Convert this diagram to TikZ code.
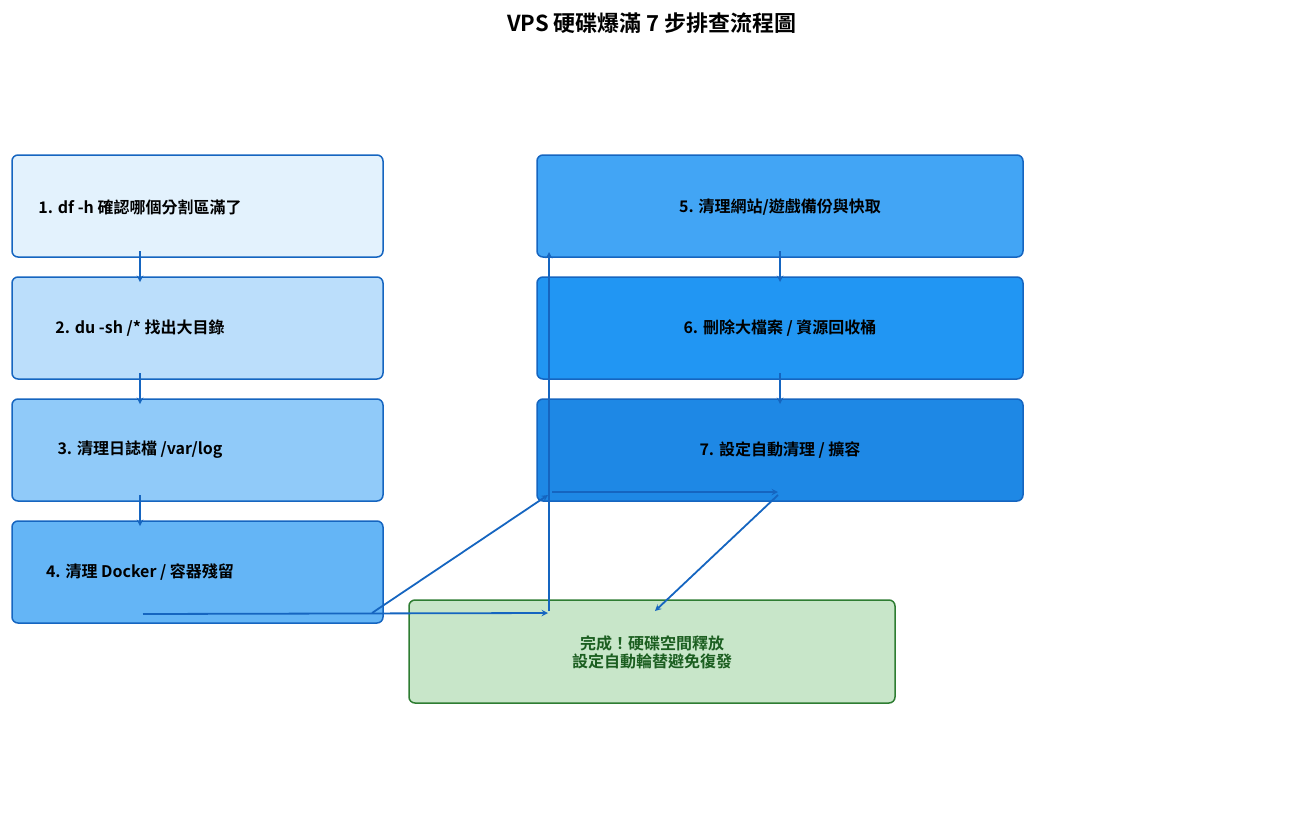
\documentclass[tikz,border=0pt]{standalone}
\usepackage{fontspec}
\setmainfont{Noto Sans CJK TC}[BoldFont={* Bold}]
\usetikzlibrary{positioning}
\definecolor{edgeblue}{HTML}{1565C0}
\definecolor{doneedge}{HTML}{2E7D32}
\definecolor{donetext}{HTML}{1B5E20}
\tikzset{
  stepbox/.style={draw=edgeblue,line width=1.5pt,rounded corners=6pt,minimum width=371pt,minimum height=102pt},
  boxtext/.style={font=\bfseries\fontsize{16}{19}\selectfont,align=center},
  flow/.style={draw=edgeblue,line width=1.8pt,-stealth},
}
\begin{document}
\begin{tikzpicture}[x=1pt,y=-1pt]
\useasboundingbox (0,0) rectangle (1304,828);

\node[font=\bfseries\fontsize{22}{26}\selectfont] (title) at (652,23) {VPS 硬碟爆滿 7 步排查流程圖};

% LEFT COLUMN

\node[stepbox,fill={rgb,255:red,227;green,242;blue,253}] (s1) at (197.5,206) {};
\node[stepbox,fill={rgb,255:red,187;green,222;blue,251}] (s2) at (197.5,328) {};
\node[stepbox,fill={rgb,255:red,144;green,202;blue,249}] (s3) at (197.5,450) {};
\node[stepbox,fill={rgb,255:red,100;green,181;blue,246}] (s4) at (197.5,572) {};
\node[boxtext] (t1) at (140,207) {1. df -h 確認哪個分割區滿了};
\node[boxtext] (t2) at (140,328) {2. du -sh /* 找出大目錄};
\node[boxtext] (t3) at (140,450) {3. 清理日誌檔 /var/log};
\node[boxtext] (t4) at (140,572) {4. 清理 Docker / 容器殘留};

% RIGHT COLUMN

\node[stepbox,minimum width=486pt,fill={rgb,255:red,66;green,165;blue,245}] (s5) at (780,206) {};
\node[stepbox,minimum width=486pt,fill={rgb,255:red,33;green,150;blue,243}] (s6) at (780,328) {};
\node[stepbox,minimum width=486pt,fill={rgb,255:red,30;green,136;blue,229}] (s7) at (780,450) {};
\node[boxtext] (t5) at (780,207) {5. 清理網站/遊戲備份與快取};
\node[boxtext] (t6) at (780,328) {6. 刪除大檔案 / 資源回收桶};
\node[boxtext] (t7) at (780,450) {7. 設定自動清理 / 擴容};

% DONE

\node[stepbox,draw=doneedge,minimum width=486pt,minimum height=103pt,fill={rgb,255:red,200;green,230;blue,201}] (done) at (652,651.5) {};
\node[boxtext,text=donetext,font=\bfseries\fontsize{16}{18}\selectfont] (tdone) at (652,652) {完成！硬碟空間釋放\\設定自動輪替避免復發};

% CONNECTORS

\coordinate (a1) at (140,251); \coordinate (b2) at (140,282);
\coordinate (a2) at (140,373); \coordinate (b3) at (140,404);
\coordinate (a3) at (140,495); \coordinate (b4) at (140,526);
\coordinate (a5) at (780,251); \coordinate (b6) at (780,282);
\coordinate (a6) at (780,373); \coordinate (b7) at (780,404);
\coordinate (p4) at (143,614); \coordinate (q4) at (548,613);
\coordinate (p4d) at (372,613); \coordinate (q7) at (548,495);
\coordinate (pd) at (549,611); \coordinate (q5) at (549,252);
\coordinate (p7) at (552,492); \coordinate (q7r) at (778,492);
\coordinate (p7d) at (778,495); \coordinate (qd) at (655,611);

\draw[flow] (a1) -- (b2);
\draw[flow] (a2) -- (b3);
\draw[flow] (a3) -- (b4);
\draw[flow] (a5) -- (b6);
\draw[flow] (a6) -- (b7);
\draw[flow] (p4) -- (q4);
\draw[flow] (p4d) -- (q7);
\draw[flow] (pd) -- (q5);
\draw[flow] (p7) -- (q7r);
\draw[flow] (p7d) -- (qd);

\end{tikzpicture}
\end{document}
